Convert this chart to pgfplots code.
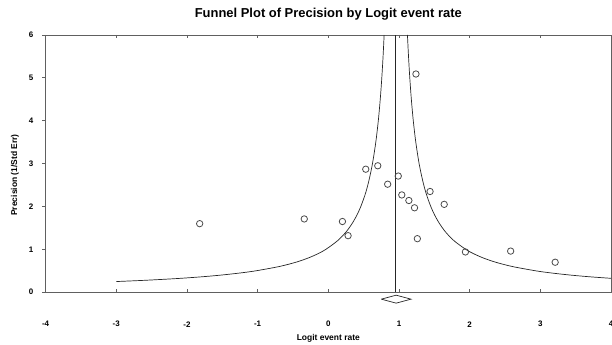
\documentclass[border=0pt]{standalone}
\usepackage{fontspec}
\setmainfont{Liberation Sans}
\usepackage{pgfplots}
\pgfplotsset{compat=1.18}
\definecolor{axgray}{HTML}{606060}
\definecolor{mkgray}{HTML}{4A4A4A}
\begin{document}
\begin{tikzpicture}
\begin{axis}[
  scale only axis,
  x=70.68bp, y=42.88bp,
  xmin=-4, xmax=4, ymin=0, ymax=6,
  clip=false,
  axis line style={draw=axgray, line width=0.9bp},
  xtick={-4,-3,-2,-1,0,1,2,3,4},
  xticklabels={-4,-3,-2,-1,0,1,2,3,4},
  ytick={0,1,2,3,4,5,6},
  yticklabels={0,1,2,3,4,5,6},
  xtick align=inside, ytick align=outside,
  major tick length=3.5bp,
  tick style={draw=axgray, line width=0.8bp},
  xticklabel style={font=\bfseries\fontsize{8}{9}\selectfont, anchor=center, yshift=-32bp},
  yticklabel style={font=\bfseries\fontsize{8}{9}\selectfont, anchor=center, xshift=-11bp},
  title={Funnel Plot of Precision by Logit event rate},
  title style={font=\bfseries\fontsize{13}{15}\selectfont, at={(rel axis cs:0.5,1)}, anchor=center, yshift=15bp},
  xlabel={Logit event rate},
  xlabel style={font=\bfseries\fontsize{8.5}{10}\selectfont, at={(rel axis cs:0.5,0)}, anchor=base, yshift=-48.5bp},
  ylabel={Precision (1/Std Err)},
  ylabel style={font=\bfseries\fontsize{8.5}{10}\selectfont, at={(rel axis cs:-0.0541,0.456)}, anchor=center, rotate=0},
]
% funnel left branch
\addplot[black!85, line width=0.7bp, smooth] coordinates {
(-3.0,0.25) (-2.581,0.28) (-2.139,0.32) (-1.795,0.36) (-1.52,0.4) (-1.245,0.45)
(-1.025,0.5) (-0.695,0.6) (-0.459,0.7) (-0.2825,0.8) (-0.145,0.9) (-0.035,1.0)
(0.13,1.2) (0.248,1.4) (0.336,1.6) (0.405,1.8) (0.46,2.0) (0.525,2.3) (0.574,2.6)
(0.625,3.0) (0.672,3.5) (0.7075,4.0) (0.735,4.5) (0.757,5.0) (0.775,5.5) (0.79,6.0)};
% funnel right branch
\addplot[black!85, line width=0.7bp, smooth] coordinates {
(4.0,0.325) (3.705,0.36) (3.43,0.4) (3.155,0.45) (2.935,0.5) (2.605,0.6) (2.369,0.7)
(2.1925,0.8) (2.055,0.9) (1.945,1.0) (1.78,1.2) (1.662,1.4) (1.574,1.6) (1.505,1.8)
(1.45,2.0) (1.385,2.3) (1.336,2.6) (1.285,3.0) (1.238,3.5) (1.2025,4.0) (1.175,4.5)
(1.153,5.0) (1.135,5.5) (1.12,6.0)};
% mean line
\addplot[black!85, line width=0.7bp] coordinates {(0.955,0) (0.955,6)};
% diamond
\addplot[black!85, line width=0.7bp] coordinates {(0.75,-0.161) (0.96,-0.068) (1.17,-0.161) (0.96,-0.254) (0.75,-0.161)};
% studies
\addplot[only marks, mark=o, mark size=3.2bp, mark options={draw=mkgray, line width=0.8bp}] coordinates {
(-1.82,1.60) (-0.34,1.71) (0.20,1.65) (0.28,1.32) (0.53,2.87) (0.70,2.95)
(0.84,2.52) (0.99,2.71) (1.04,2.27) (1.14,2.14) (1.22,1.97) (1.26,1.25)
(1.44,2.35) (1.64,2.05) (1.94,0.94) (2.58,0.96) (3.21,0.70) (1.24,5.09)};
\coordinate (bbsw) at ([xshift=-45.6bp, yshift=-52.7bp]rel axis cs:0,0);
\coordinate (bbne) at ([xshift=1bp, yshift=35bp]rel axis cs:1,1);
\end{axis}
\pgfresetboundingbox
\path[use as bounding box] (bbsw) rectangle (bbne);
\end{tikzpicture}
\end{document}
